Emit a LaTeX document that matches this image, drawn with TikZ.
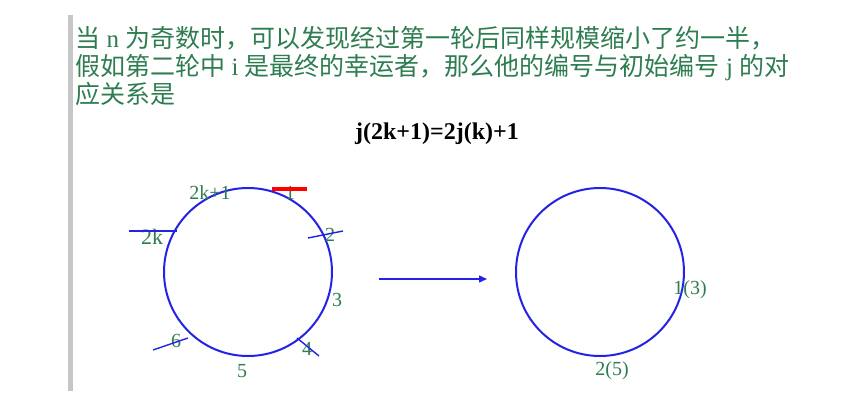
\documentclass[tikz,border=0pt]{standalone}
\usepackage{fontspec}
\setmainfont{Liberation Serif}
\newfontfamily\cjk{Noto Sans CJK SC}
\usetikzlibrary{arrows.meta}

\definecolor{txtgreen}{RGB}{46,125,80}
\definecolor{ringblue}{RGB}{35,35,230}

\begin{document}
\begin{tikzpicture}[x=0.5pt,y=-0.5pt,
  lab/.style={text=txtgreen, font=\fontsize{10}{12}\selectfont, inner sep=0pt, anchor=base},
  para/.style={text=txtgreen, font=\fontsize{12.5}{14}\selectfont, inner sep=0pt, anchor=base west},
  ring/.style={draw=ringblue, line width=1pt, circle, minimum size=84pt, inner sep=0pt},
  tick/.style={draw=ringblue, line width=0.7pt}]

\useasboundingbox (0,0) rectangle (864,409);
\fill[gray!45] (68,15) rectangle (73,391);

% explanation text
\node[para] (line1) at (75,47) {{\cjk 当} n {\cjk 为奇数时，可以发现经过第一轮后同样规模缩小了约一半，}};
\node[para] (line2) at (75,75) {{\cjk 假如第二轮中} i {\cjk 是最终的幸运者，那么他的编号与初始编号} j {\cjk 的对}};
\node[para] (line3) at (75,103) {{\cjk 应关系是}};
\node[anchor=base, inner sep=0pt, font=\fontsize{12}{14}\selectfont\bfseries] (rule) at (437,139) {j(2k+1)=2j(k)+1};

% first round
\node[ring] (first) at (248,272) {};

\coordinate (A1) at (272,189);
\coordinate (A2) at (307,189);
\coordinate (B1) at (129,231);
\coordinate (B2) at (177,231);
\coordinate (C1) at (308,238);
\coordinate (C2) at (343,231);
\coordinate (D1) at (297,338);
\coordinate (D2) at (319,356);
\coordinate (E1) at (153,350);
\coordinate (E2) at (188,338);

\node[lab] (k2p1) at (210,199) {2k+1};
\node[lab] (n1) at (290,199) {1};
\node[lab, font=\fontsize{11}{13}\selectfont] (k2) at (152,244) {2k};
\node[lab] (n2) at (330,241) {2};
\node[lab] (n3) at (337,306) {3};
\node[lab] (n4) at (307,355) {4};
\node[lab] (n5) at (242,377) {5};
\node[lab] (n6) at (176,347) {6};

\draw[red, line width=1.75pt] (A1) to (A2);
\draw[tick] (B1) to (B2);
\draw[tick] (C1) to (C2);
\draw[tick] (D1) to (D2);
\draw[tick] (E1) to (E2);

% second round
\coordinate (P) at (379,279);
\coordinate (Q) at (487,279);
\draw[ringblue, line width=0.75pt, -{Triangle[length=4pt,width=3.5pt]}] (P) to (Q);

\node[ring] (second) at (600,272) {};
\node[lab] (m1) at (690,294) {1(3)};
\node[lab] (m2) at (612,375) {2(5)};

\end{tikzpicture}
\end{document}
